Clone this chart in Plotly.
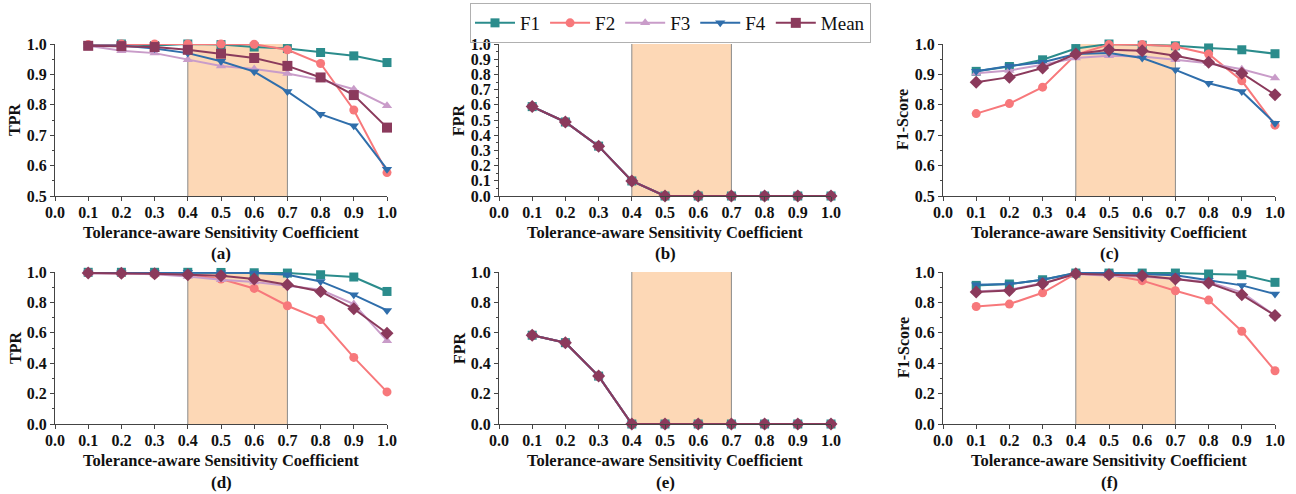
import plotly.graph_objects as go

x_vals = [0.1, 0.2, 0.3, 0.4, 0.5, 0.6, 0.7, 0.8, 0.9, 1.0]
x_ticks = [0.0, 0.1, 0.2, 0.3, 0.4, 0.5, 0.6, 0.7, 0.8, 0.9, 1.0]
series_names = ["F1", "F2", "F3", "F4", "Mean"]
panel_labels = ["(a)", "(b)", "(c)", "(d)", "(e)", "(f)"]
y_titles = ["TPR", "FPR", "F1-Score", "TPR", "FPR", "F1-Score"]
x_title = "Tolerance-aware Sensitivity Coefficient"
band = [0.4, 0.7]

# (a) TPR
a_F1 = [0.995, 1.0, 0.995, 1.0, 0.998, 0.99, 0.985, 0.972, 0.961, 0.939]
a_F2 = [0.998, 1.0, 1.0, 1.0, 1.0, 0.999, 0.981, 0.936, 0.783, 0.577]
a_F3 = [0.994, 0.978, 0.970, 0.948, 0.928, 0.918, 0.903, 0.882, 0.851, 0.797]
a_F4 = [0.995, 0.995, 0.985, 0.970, 0.943, 0.909, 0.844, 0.769, 0.731, 0.588]
a_Mean = [0.994, 0.993, 0.990, 0.981, 0.968, 0.954, 0.928, 0.890, 0.832, 0.725]

# (b) FPR
b_F1 = [0.588, 0.487, 0.328, 0.099, 0.0, 0.0, 0.0, 0.0, 0.0, 0.0]
b_F2 = [0.588, 0.487, 0.328, 0.099, 0.0, 0.0, 0.0, 0.0, 0.0, 0.0]
b_F3 = [0.588, 0.487, 0.328, 0.099, 0.0, 0.0, 0.0, 0.0, 0.0, 0.0]
b_F4 = [0.588, 0.487, 0.328, 0.099, 0.0, 0.0, 0.0, 0.0, 0.0, 0.0]
b_Mean = [0.588, 0.487, 0.328, 0.099, 0.0, 0.0, 0.0, 0.0, 0.0, 0.0]

# (c) F1-Score
c_F1 = [0.910, 0.926, 0.948, 0.985, 1.0, 0.996, 0.994, 0.987, 0.981, 0.968]
c_F2 = [0.771, 0.804, 0.858, 0.965, 0.998, 0.998, 0.992, 0.967, 0.879, 0.733]
c_F3 = [0.904, 0.913, 0.932, 0.954, 0.961, 0.959, 0.948, 0.937, 0.917, 0.888]
c_F4 = [0.910, 0.928, 0.940, 0.967, 0.970, 0.954, 0.915, 0.871, 0.844, 0.739]
c_Mean = [0.874, 0.891, 0.921, 0.967, 0.981, 0.978, 0.961, 0.940, 0.904, 0.833]

# (d) TPR
d_F1 = [0.998, 0.998, 0.998, 0.998, 0.997, 0.995, 0.993, 0.982, 0.967, 0.872]
d_F2 = [0.995, 0.990, 0.985, 0.982, 0.954, 0.892, 0.778, 0.687, 0.438, 0.211]
d_F3 = [0.990, 0.990, 0.985, 0.971, 0.949, 0.934, 0.910, 0.883, 0.789, 0.548]
d_F4 = [0.995, 0.995, 0.995, 0.998, 0.995, 0.993, 0.982, 0.938, 0.850, 0.747]
d_Mean = [0.993, 0.992, 0.989, 0.982, 0.976, 0.954, 0.916, 0.872, 0.758, 0.597]

# (e) FPR
e_F1 = [0.584, 0.535, 0.315, 0.0, 0.0, 0.0, 0.0, 0.0, 0.0, 0.0]
e_F2 = [0.584, 0.535, 0.315, 0.0, 0.0, 0.0, 0.0, 0.0, 0.0, 0.0]
e_F3 = [0.584, 0.535, 0.315, 0.0, 0.0, 0.0, 0.0, 0.0, 0.0, 0.0]
e_F4 = [0.584, 0.535, 0.315, 0.0, 0.0, 0.0, 0.0, 0.0, 0.0, 0.0]
e_Mean = [0.584, 0.535, 0.315, 0.0, 0.0, 0.0, 0.0, 0.0, 0.0, 0.0]

# (f) F1-Score
f_F1 = [0.912, 0.921, 0.949, 0.993, 0.993, 0.993, 0.993, 0.987, 0.982, 0.932]
f_F2 = [0.773, 0.789, 0.863, 0.989, 0.982, 0.943, 0.877, 0.815, 0.610, 0.350]
f_F3 = [0.872, 0.883, 0.927, 0.987, 0.976, 0.971, 0.954, 0.934, 0.866, 0.714]
f_F4 = [0.916, 0.921, 0.949, 0.993, 0.993, 0.987, 0.978, 0.945, 0.912, 0.855]
f_Mean = [0.868, 0.879, 0.923, 0.989, 0.982, 0.976, 0.954, 0.927, 0.850, 0.714]

panels = [
    [a_F1, a_F2, a_F3, a_F4, a_Mean],
    [b_F1, b_F2, b_F3, b_F4, b_Mean],
    [c_F1, c_F2, c_F3, c_F4, c_Mean],
    [d_F1, d_F2, d_F3, d_F4, d_Mean],
    [e_F1, e_F2, e_F3, e_F4, e_Mean],
    [f_F1, f_F2, f_F3, f_F4, f_Mean],
]

colors = ["#2B8C8C", "#F7787B", "#C99CC9", "#2F6EAB", "#8B3A5C"]
symbols = ["square", "circle", "triangle-up", "triangle-down", "diamond"]
shade = "#FDD8B6"

W, H = 1296, 494
col_px = [(55, 387), (499, 831), (943, 1275)]
row_px = [(44, 196), (272, 424)]
y_ranges = [[0.5, 1.0], [0, 1], [0.5, 1.0], [0, 1], [0, 1], [0, 1]]
y_dticks = [0.1, 0.1, 0.1, 0.2, 0.2, 0.2]
y_minor = [0.05, 0.05, 0.05, 0.1, 0.1, 0.1]

font_fam = "Liberation Serif"
fig = go.Figure()
layout = dict(
    width=W, height=H, margin=dict(l=0, r=0, t=0, b=0, autoexpand=False),
    paper_bgcolor="white", plot_bgcolor="white",
    showlegend=True,
    legend=dict(orientation="h", x=470 / W, y=1 - 3 / H, xanchor="left", yanchor="top",
                bordercolor="#B0B0B0", borderwidth=1, bgcolor="rgba(255,255,255,0)",
                font=dict(family=font_fam, size=19, color="#111"),
                itemwidth=40, tracegroupgap=0),
)
shapes = []
annotations = []

for i in range(6):
    r, c = divmod(i, 3)
    ax_id = "" if i == 0 else str(i + 1)
    xa, ya = "x" + ax_id, "y" + ax_id
    x0p, x1p = col_px[c]
    y0p, y1p = row_px[r]
    for k, name in enumerate(series_names):
        sym = symbols[k]
        if i == 0 and name == "Mean":
            sym = "square"
        fig.add_trace(go.Scatter(
            x=x_vals, y=panels[i][k], mode="lines+markers", name=name,
            line=dict(color=colors[k], width=2),
            marker=dict(symbol=sym, size=10 if k == 4 else 9, color=colors[k]),
            xaxis=xa, yaxis=ya, showlegend=(i == 0), legendgroup=name,
            cliponaxis=False,
        ))
    layout["xaxis" + ax_id] = dict(
        domain=[x0p / W, x1p / W], range=[0, 1], anchor=ya, automargin=False,
        tickvals=x_ticks, tickformat=".1f", showgrid=False, zeroline=False,
        showline=True, linecolor="#444", linewidth=1, ticks="outside", ticklen=4,
        tickcolor="#444", ticklabelstandoff=-2,
        tickfont=dict(family=font_fam, size=16, color="#111", weight="bold"),
    )
    layout["yaxis" + ax_id] = dict(
        domain=[1 - y1p / H, 1 - y0p / H], range=y_ranges[i], anchor=xa, automargin=False,
        dtick=y_dticks[i], tick0=0, tickformat=".1f", showgrid=False, zeroline=False,
        showline=True, linecolor="#444", linewidth=1, ticks="outside", ticklen=4,
        tickcolor="#444",
        minor=dict(dtick=y_minor[i], ticks="outside", ticklen=2, tickcolor="#444"),
        tickfont=dict(family=font_fam, size=16, color="#111", weight="bold"),
    )
    shapes.append(dict(type="rect", xref=xa, yref=ya + " domain", x0=band[0], x1=band[1],
                       y0=0, y1=1, fillcolor=shade, line=dict(width=0), layer="below"))
    for bx in band:
        shapes.append(dict(type="line", xref=xa, yref=ya + " domain", x0=bx, x1=bx,
                           y0=0, y1=1, line=dict(color="#8A8A8A", width=1), layer="below"))
    annotations.append(dict(text="<b>" + x_title + "</b>", xref="paper", yref="paper",
                            x=(x0p + x1p) / 2 / W, y=1 - (y1p + 36) / H,
                            showarrow=False, xanchor="center", yanchor="middle",
                            font=dict(family=font_fam, size=16.5, color="#111")))
    annotations.append(dict(text="<b>" + panel_labels[i] + "</b>", xref="paper", yref="paper",
                            x=(x0p + x1p) / 2 / W, y=1 - (y1p + 58) / H,
                            showarrow=False, xanchor="center", yanchor="middle",
                            font=dict(family=font_fam, size=17, color="#111")))
    annotations.append(dict(text="<b>" + y_titles[i] + "</b>", xref="paper", yref="paper",
                            x=(x0p - 40) / W, y=1 - (y0p + y1p) / 2 / H, textangle=-90,
                            showarrow=False, xanchor="center", yanchor="middle",
                            font=dict(family=font_fam, size=16, color="#111")))

layout["shapes"] = shapes
layout["annotations"] = annotations
fig.update_layout(**layout)
fig.write_html("out.html")
